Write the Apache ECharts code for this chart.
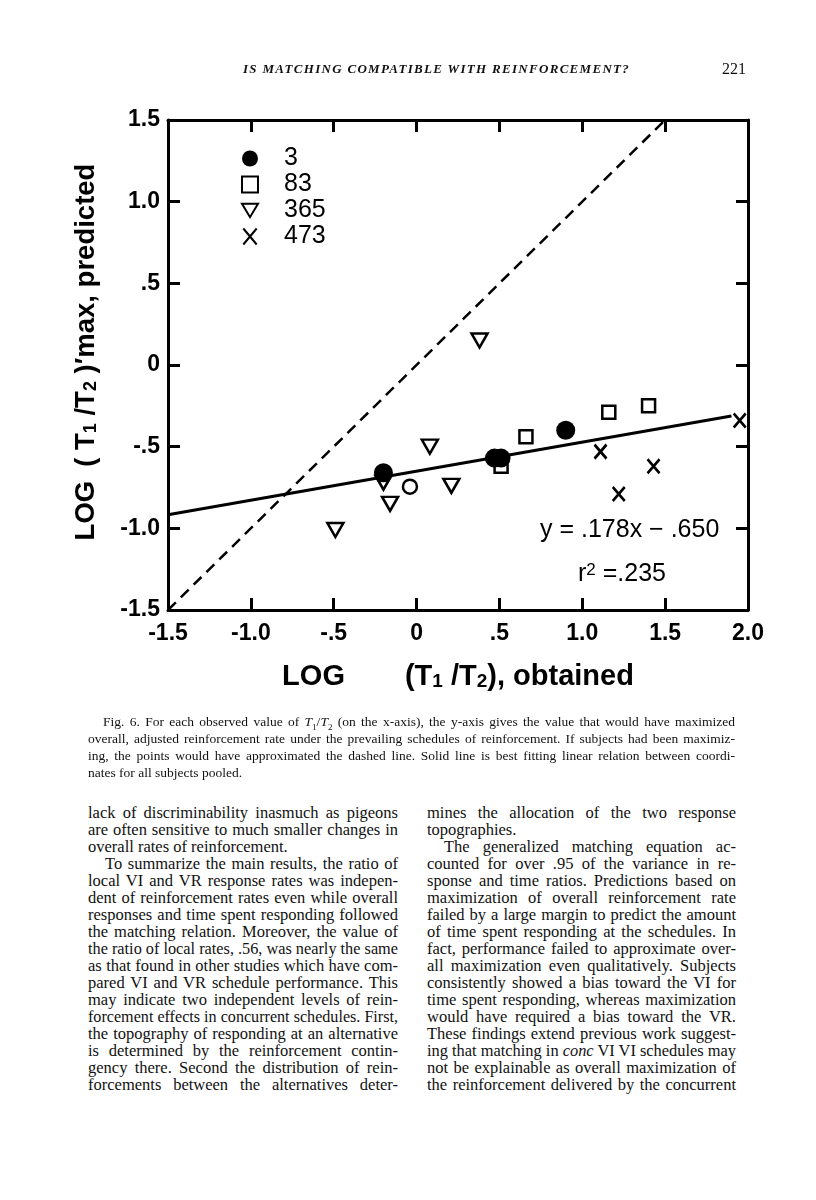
<!DOCTYPE html>
<html>
<head>
<meta charset="utf-8">
<script src="https://cdn.jsdelivr.net/npm/echarts@6/dist/echarts.min.js"></script>
<style>
  body { margin: 0; background: #fff; }
  #page { position: relative; width: 816px; height: 1200px; background: #fff; color: #111; font-family: "Liberation Serif", "DejaVu Serif", serif; }
  .ln { position: absolute; height: 17px; line-height: 17px; white-space: nowrap; }
  .ln span { display: inline-block; transform-origin: 0 50%; }
</style>
</head>
<body>
<div id="page">
  <div id="container" style="position:absolute; left:0; top:0; width:816px; height:720px"></div>
  <div id="runhead" style="position:absolute; left:243px; top:61px; font-style:italic; font-weight:bold; font-size:13px; letter-spacing:1.3px; white-space:nowrap">IS MATCHING COMPATIBLE WITH REINFORCEMENT?</div>
  <div style="position:absolute; left:722px; top:60px; font-size:16px;">221</div>
  <div id="caption"></div>
  <div id="body"></div>
</div>
<script type="text/javascript">
    // tick values and their printed labels
    var xTicks = [-1.5, -1, -0.5, 0, 0.5, 1, 1.5, 2];
    var xTickLabels = ['-1.5', '-1.0', '-.5', '0', '.5', '1.0', '1.5', '2.0'];
    var yTicks = [-1.5, -1, -0.5, 0, 0.5, 1, 1.5];
    var yTickLabels = ['-1.5', '-1.0', '-.5', '0', '.5', '1.0', '1.5'];

    // subjects: [log(T1/T2) obtained, log(T1/T2)'max predicted]
    var subj3 = [[-0.20, -0.66], [0.47, -0.57], [0.51, -0.57], [0.90, -0.40]];
    var subj3open = [[-0.04, -0.745]];
    var subj83 = [[0.51, -0.62], [0.66, -0.44], [1.16, -0.29], [1.40, -0.25]];
    var subj365 = [[-0.49, -1.01], [-0.20, -0.72], [-0.16, -0.85], [0.08, -0.50], [0.21, -0.74], [0.38, 0.15]];
    var subj473 = [[1.11, -0.53], [1.22, -0.79], [1.43, -0.62], [1.95, -0.34]];

    // dashed line = perfect maximization, solid = fitted line
    var diagLine = [[-1.5, -1.5], [1.5, 1.5]];
    var fitSlope = 0.178;
    var fitIntercept = -0.650;
    var fitRange = [-1.5, 1.9];

    function tickLabel(ticks, labels) {
        return function (v) {
            for (var i = 0; i < ticks.length; i++) {
                if (Math.abs(ticks[i] - v) < 1e-6) return labels[i];
            }
            return '';
        };
    }

    var sans = '"Liberation Sans", Arial, sans-serif';
    var black = '#000';
    var hollow = { color: '#fff', borderColor: black, borderWidth: 2.5, opacity: 1 };

    function nameRich(size, gap) {
        return {
            a: { fontSize: size, fontWeight: 'bold', fontFamily: sans, color: black },
            s: { fontSize: Math.round(size * 0.66), fontWeight: 'bold', fontFamily: sans, color: black, verticalAlign: 'bottom' },
            g: { width: gap }
        };
    }

    var dom = document.getElementById("container");
    var myChart = echarts.init(dom);

    var axisCommon = {
        type: 'value',
        axisLine: { show: true, onZero: false, lineStyle: { color: black, width: 3 } },
        axisTick: { show: true, inside: true, length: 12, lineStyle: { color: black, width: 3 } },
        splitLine: { show: false }
    };

    var option = {
        animation: false,
        grid: { left: 168, right: 68, top: 120, bottom: 110 },
        legend: {
            data: ['3', '83', '365', '473'],
            orient: 'vertical',
            left: 241,
            top: 146,
            padding: 0,
            itemWidth: 16,
            itemHeight: 16,
            itemGap: 1,
            textStyle: { fontSize: 25, fontFamily: sans, color: black, padding: [0, 0, 0, 21] }
        },
        xAxis: [
            Object.assign({}, axisCommon, {
                min: -1.5, max: 2.0, interval: 0.5, position: 'bottom',
                axisLabel: { formatter: tickLabel(xTicks, xTickLabels), fontSize: 23, fontWeight: 'bold', fontFamily: sans, color: black, margin: 12 },
                name: '{a|LOG}{g|}{a|(T}{s|1}{a| /T}{s|2}{a|), obtained}',
                nameLocation: 'middle',
                nameGap: 52,
                nameTextStyle: { rich: nameRich(29, 60) }
            }),
            Object.assign({}, axisCommon, {
                min: -1.5, max: 2.0, interval: 0.5, position: 'top',
                axisLabel: { show: false }
            })
        ],
        yAxis: [
            Object.assign({}, axisCommon, {
                min: -1.5, max: 1.5, interval: 0.5, position: 'left',
                axisLabel: { formatter: tickLabel(yTicks, yTickLabels), fontSize: 23, fontWeight: 'bold', fontFamily: sans, color: black, margin: 8 },
                name: '{a|LOG}{g|}{a|( T}{s|1}{a| /T}{s|2}{a| )′max, predicted}',
                nameLocation: 'middle',
                nameRotate: 90,
                nameGap: 68,
                nameTextStyle: { rich: nameRich(27.5, 14), padding: [0, 0, 0, 26] }
            }),
            Object.assign({}, axisCommon, {
                min: -1.5, max: 1.5, interval: 0.5, position: 'right',
                axisLabel: { show: false }
            })
        ],
        series: [
            {
                name: 'maximizing', type: 'line', data: diagLine, symbol: 'none', silent: true,
                lineStyle: { color: black, width: 2.5, type: [11, 7] }
            },
            {
                name: 'fit', type: 'line', symbol: 'none', silent: true,
                data: fitRange.map(function (x) { return [x, fitSlope * x + fitIntercept]; }),
                lineStyle: { color: black, width: 3 }
            },
            {
                name: '83', type: 'scatter', data: subj83, symbol: 'rect', symbolSize: 13,
                itemStyle: hollow
            },
            {
                name: '365', type: 'scatter', data: subj365, symbol: 'path://M0,0L12,0L6,10Z', symbolSize: [16, 14],
                itemStyle: hollow
            },
            {
                name: '473', type: 'scatter', data: subj473, symbol: 'path://M0,0L10,12M10,0L0,12', symbolSize: [12, 14],
                itemStyle: { color: 'rgba(0,0,0,0)', borderColor: black, borderWidth: 2.8, opacity: 1 }
            },
            {
                name: '3 open', type: 'scatter', data: subj3open, symbol: 'circle', symbolSize: 14,
                itemStyle: hollow
            },
            {
                name: '3', type: 'scatter', data: subj3, symbol: 'circle', symbolSize: 19, z: 5,
                itemStyle: { color: black, opacity: 1 }
            }
        ],
        graphic: [
            {
                type: 'text', left: 540, top: 518,
                style: { text: 'y = .178x − .650', fontSize: 25, fontFamily: sans, fill: black }
            },
            {
                type: 'text', left: 578, top: 562,
                style: {
                    text: '{a|r}{b|2}{a| =.235}',
                    rich: {
                        a: { fontSize: 25, fontFamily: sans, fill: black },
                        b: { fontSize: 17, fontFamily: sans, fill: black, verticalAlign: 'top' }
                    }
                }
            }
        ]
    };
    myChart.setOption(option);

    // caption and body text, one entry per printed line
    var captionLines = [
        'Fig. 6. For each observed value of <i>T</i><sub style="font-size:9px">1</sub>/<i>T</i><sub style="font-size:9px">2</sub> (on the x-axis), the y-axis gives the value that would have maximized',
        'overall, adjusted reinforcement rate under the prevailing schedules of reinforcement. If subjects had been maximiz-',
        'ing, the points would have approximated the dashed line. Solid line is best fitting linear relation between coordi-',
        'nates for all subjects pooled.'
    ];
    var leftCol = [
        'lack of discriminability inasmuch as pigeons',
        'are often sensitive to much smaller changes in',
        'overall rates of reinforcement.',
        'To summarize the main results, the ratio of',
        'local VI and VR response rates was indepen-',
        'dent of reinforcement rates even while overall',
        'responses and time spent responding followed',
        'the matching relation. Moreover, the value of',
        'the ratio of local rates, .56, was nearly the same',
        'as that found in other studies which have com-',
        'pared VI and VR schedule performance. This',
        'may indicate two independent levels of rein-',
        'forcement effects in concurrent schedules. First,',
        'the topography of responding at an alternative',
        'is determined by the reinforcement contin-',
        'gency there. Second the distribution of rein-',
        'forcements between the alternatives deter-'
    ];
    var rightCol = [
        'mines the allocation of the two response',
        'topographies.',
        'The generalized matching equation ac-',
        'counted for over .95 of the variance in re-',
        'sponse and time ratios. Predictions based on',
        'maximization of overall reinforcement rate',
        'failed by a large margin to predict the amount',
        'of time spent responding at the schedules. In',
        'fact, performance failed to approximate over-',
        'all maximization even qualitatively. Subjects',
        'consistently showed a bias toward the VI for',
        'time spent responding, whereas maximization',
        'would have required a bias toward the VR.',
        'These findings extend previous work suggest-',
        'ing that matching in <i>conc</i> VI VI schedules may',
        'not be explainable as overall maximization of',
        'the reinforcement delivered by the concurrent'
    ];

    function addLine(parent, html, left, top, width, fontSize, indent, justify) {
        var div = document.createElement('div');
        div.className = 'ln';
        div.style.left = (left + indent) + 'px';
        div.style.top = top + 'px';
        div.style.width = (width - indent) + 'px';
        div.style.fontSize = fontSize + 'px';
        var span = document.createElement('span');
        span.innerHTML = html;
        div.appendChild(span);
        parent.appendChild(div);
        var target = width - indent;
        var w = span.getBoundingClientRect().width;
        if (w > target) {
            span.style.transform = 'scaleX(' + (target / w) + ')';
        } else if (justify) {
            var spaces = (span.textContent.match(/ /g) || []).length;
            if (spaces) span.style.wordSpacing = ((target - w) / spaces) + 'px';
        }
    }

    var cap = document.getElementById('caption');
    captionLines.forEach(function (t, i) {
        addLine(cap, t, 88, 713 + i * 17, 647, 13.5, i === 0 ? 15 : 0, i < 3);
    });
    var body = document.getElementById('body');
    var leftIndent = { 3: 17 }, leftLast = { 2: true };
    leftCol.forEach(function (t, i) {
        addLine(body, t, 88, 804 + i * 17, 310, 16.5, leftIndent[i] || 0, !leftLast[i]);
    });
    var rightIndent = { 2: 17 }, rightLast = { 1: true };
    rightCol.forEach(function (t, i) {
        addLine(body, t, 427, 804 + i * 17, 309, 16.5, rightIndent[i] || 0, !rightLast[i]);
    });
</script>
</body>
</html>
